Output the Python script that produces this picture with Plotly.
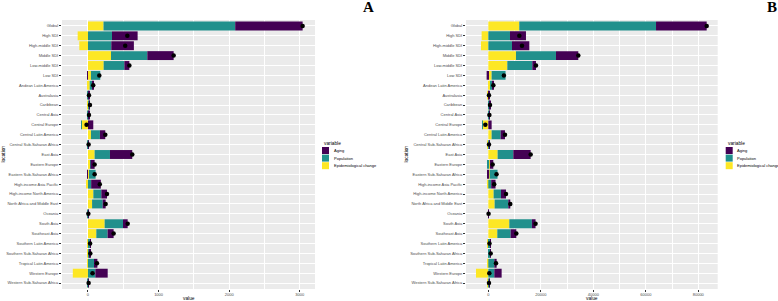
import plotly.graph_objects as go
from plotly.subplots import make_subplots

locations = ["Global", "High SDI", "High-middle SDI", "Middle SDI", "Low-middle SDI", "Low SDI",
             "Andean Latin America", "Australasia", "Caribbean", "Central Asia", "Central Europe",
             "Central Latin America", "Central Sub-Saharan Africa", "East Asia", "Eastern Europe",
             "Eastern Sub-Saharan Africa", "High-income Asia Pacific", "High-income North America",
             "North Africa and Middle East", "Oceania", "South Asia", "Southeast Asia",
             "Southern Latin America", "Southern Sub-Saharan Africa", "Tropical Latin America",
             "Western Europe", "Western Sub-Saharan Africa"]

# Panel A
aging_a = [955, 363, 320, 373, 71, -14, 12, 6, 8, 3, 75, 76, 1, 316, 57, -14, 137, 80, 42, 1,
           66, 85, 8, 6, 48, 175, 1]
population_a = [1865, 340, 330, 514, 293, 132, 38, 12, 14, 14, -5, 127, 13, 217, 5, 94, 45, 113,
                150, 5, 260, 160, 32, 19, 85, 104, 12]
epi_a = [220, -146, -123, 326, 222, 42, 24, -4, 6, -3, -90, 42, -5, 94, 32, 14, -15, 76, 58, -1,
         236, 118, -10, 8, -6, -215, -4]

# Panel B
aging_b = [19300, 6096, 6604, 8509, 1397, -635, 381, 150, 200, 100, 1270, 1651, 30, 6604, 1300,
           -381, 1651, 1905, 762, 20, 1397, 2159, 254, 100, 889, 2794, 30]
population_b = [52100, 8255, 9017, 15240, 9525, 5300, 900, 250, 350, 400, -100, 3429, 350, 5969,
                -250, 3000, 1100, 2794, 5200, 100, 8600, 5080, 700, 600, 2286, 2286, 550]
epi_b = [11800, -2540, -2794, 10541, 7239, 1270, 635, -150, 100, -100, -2300, 1270, -130, 3556,
         600, 508, -508, 2032, 2413, -20, 8001, 3429, -500, 200, -250, -4699, -330]

series_names = ["Aging", "Population", "Epidemiological change"]
colors = {"Aging": "#440154", "Population": "#21908C", "Epidemiological change": "#FDE725"}

W, H = 778, 301
def px(x):
    return x / W
def py(y):
    return 1 - y / H

fig = make_subplots(rows=1, cols=2)

panels = [
    (1, aging_a, population_a, epi_a),
    (2, aging_b, population_b, epi_b),
]
for col, ag, po, ep in panels:
    for name, vals in [("Epidemiological change", ep), ("Population", po), ("Aging", ag)]:
        fig.add_trace(go.Bar(y=locations, x=vals, orientation="h", name=name,
                             marker=dict(color=colors[name], line=dict(width=0)),
                             showlegend=False), row=1, col=col)
    totals = [a + b + c for a, b, c in zip(ag, po, ep)]
    fig.add_trace(go.Scatter(y=locations, x=totals, mode="markers",
                             marker=dict(color="black", size=4.5), showlegend=False),
                  row=1, col=col)

tickfont = dict(family="Liberation Sans", size=4.0, color="#4D4D4D")
ydom = [(H - 289) / H, (H - 20) / H]
common_x = dict(showgrid=True, gridcolor="white", gridwidth=0.8, zeroline=False,
                ticks="outside", ticklen=2, tickcolor="#333333", tickwidth=0.6,
                tickfont=tickfont, tickformat="d", showline=False, automargin=False,
                ticklabelstandoff=-1)
common_y = dict(showgrid=True, gridcolor="white", gridwidth=0.8, zeroline=False,
                ticks="outside", ticklen=2, tickcolor="#333333", tickwidth=0.6,
                tickfont=tickfont, categoryorder="array", categoryarray=locations,
                range=[26.6, -0.6], domain=ydom, showline=False, automargin=False)

fig.update_xaxes(row=1, col=1, domain=[px(62), px(315)], range=[-368, 3215], dtick=1000,
                 minor=dict(dtick=500, showgrid=True, gridcolor="white", gridwidth=0.4), **common_x)
fig.update_xaxes(row=1, col=2, domain=[px(466), px(717.7)], range=[-8500, 87400], dtick=20000,
                 minor=dict(dtick=10000, showgrid=True, gridcolor="white", gridwidth=0.4), **common_x)
fig.update_yaxes(row=1, col=1, **common_y)
fig.update_yaxes(row=1, col=2, **common_y)

annotations = []
shapes = []
title_font = dict(family="Liberation Sans", size=4.8, color="black")
for xl, xr, lx in [(62, 315, 3), (466, 717.7, 406)]:
    annotations.append(dict(text="value", x=px((xl + xr) / 2), y=py(298.8), xref="paper", yref="paper",
                            showarrow=False, font=title_font, xanchor="center", yanchor="middle"))
    annotations.append(dict(text="location", x=px(lx), y=py(154.5), xref="paper", yref="paper",
                            showarrow=False, font=title_font, textangle=-90,
                            xanchor="center", yanchor="middle"))

for kx, tx in [(322, 331.5), (725.7, 735)]:
    annotations.append(dict(text="variable", x=px(kx), y=py(143), xref="paper", yref="paper",
                            showarrow=False, font=dict(family="Liberation Sans", size=4.8, color="black"),
                            xanchor="left", yanchor="middle"))
    for i, name in enumerate(series_names):
        y0 = 147 + i * 7.6
        shapes.append(dict(type="rect", xref="paper", yref="paper",
                           x0=px(kx), x1=px(kx + 7), y0=py(y0 + 7), y1=py(y0),
                           fillcolor=colors[name], line=dict(width=0)))
        annotations.append(dict(text=name, x=px(tx), y=py(y0 + 3.5), xref="paper", yref="paper",
                                showarrow=False, font=dict(family="Liberation Sans", size=4.0, color="black"),
                                xanchor="left", yanchor="middle"))

for label, lx in [("A", 368.3), ("B", 772)]:
    annotations.append(dict(text="<b>" + label + "</b>", x=px(lx), y=py(7.5), xref="paper", yref="paper",
                            showarrow=False, font=dict(family="Liberation Serif", size=15, color="black"),
                            xanchor="center", yanchor="middle"))

fig.update_layout(width=W, height=H, margin=dict(l=0, r=0, t=0, b=0, autoexpand=False),
                  paper_bgcolor="white", plot_bgcolor="#EBEBEB",
                  barmode="relative", bargap=0.1, showlegend=False,
                  annotations=annotations, shapes=shapes)

fig.write_html("out.html", config={"displayModeBar": False},
               post_script="document.body.style.margin='0';document.body.style.padding='0';"
                           "document.documentElement.style.overflow='hidden';")
